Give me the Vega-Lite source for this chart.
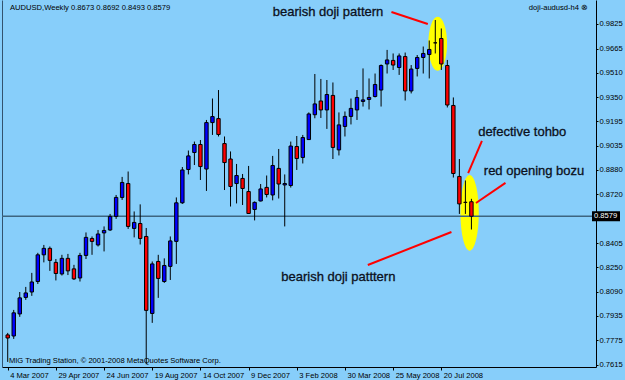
{
  "$schema": "https://vega.github.io/schema/vega-lite/v6.json",
  "width": 594,
  "height": 367,
  "padding": {"left": 2, "top": 0, "right": 29, "bottom": 13},
  "autosize": {"type": "none"},
  "background": "#87CEFA",
  "config": {
    "view": {"stroke": null},
    "font": "Liberation Sans",
    "axisX": {"labelAlign": "left", "labelOffset": 2, "labelFontSize": 7.6, "labelColor": "#000000", "labelFont": "Liberation Sans",
              "tickSize": 3, "tickColor": "#000000", "labelPadding": 1, "domainColor": "#000000", "domainWidth": 1,
              "grid": false, "labelFlush": false, "labelOverlap": false}
  },
  "datasets": {
    "candles": [
      {"date":"2007-03-04","open":0.7810,"high":0.7823,"low":0.7635,"close":0.7790},
      {"date":"2007-03-11","open":0.7803,"high":0.7972,"low":0.7784,"close":0.7953},
      {"date":"2007-03-18","open":0.7946,"high":0.8088,"low":0.7927,"close":0.8050},
      {"date":"2007-03-25","open":0.8053,"high":0.8121,"low":0.8037,"close":0.8082},
      {"date":"2007-04-01","open":0.8088,"high":0.8212,"low":0.8063,"close":0.8153},
      {"date":"2007-04-08","open":0.8156,"high":0.8342,"low":0.8140,"close":0.8329},
      {"date":"2007-04-15","open":0.8329,"high":0.8393,"low":0.8280,"close":0.8371},
      {"date":"2007-04-22","open":0.8371,"high":0.8383,"low":0.8225,"close":0.8293},
      {"date":"2007-04-29","open":0.8280,"high":0.8302,"low":0.8163,"close":0.8208},
      {"date":"2007-05-06","open":0.8205,"high":0.8329,"low":0.8195,"close":0.8306},
      {"date":"2007-05-13","open":0.8306,"high":0.8335,"low":0.8198,"close":0.8225},
      {"date":"2007-05-20","open":0.8238,"high":0.8264,"low":0.8166,"close":0.8173},
      {"date":"2007-05-27","open":0.8179,"high":0.8342,"low":0.8156,"close":0.8325},
      {"date":"2007-06-03","open":0.8325,"high":0.8474,"low":0.8302,"close":0.8442},
      {"date":"2007-06-10","open":0.8435,"high":0.8448,"low":0.8329,"close":0.8416},
      {"date":"2007-06-17","open":0.8393,"high":0.8490,"low":0.8383,"close":0.8464},
      {"date":"2007-06-24","open":0.8471,"high":0.8513,"low":0.8351,"close":0.8487},
      {"date":"2007-07-01","open":0.8490,"high":0.8594,"low":0.8484,"close":0.8578},
      {"date":"2007-07-08","open":0.8578,"high":0.8717,"low":0.8562,"close":0.8701},
      {"date":"2007-07-15","open":0.8701,"high":0.8834,"low":0.8685,"close":0.8798},
      {"date":"2007-07-22","open":0.8791,"high":0.8869,"low":0.8497,"close":0.8513},
      {"date":"2007-07-29","open":0.8500,"high":0.8610,"low":0.8442,"close":0.8539},
      {"date":"2007-08-05","open":0.8532,"high":0.8656,"low":0.8396,"close":0.8435},
      {"date":"2007-08-12","open":0.8448,"high":0.8503,"low":0.7620,"close":0.7969},
      {"date":"2007-08-19","open":0.7949,"high":0.8286,"low":0.7888,"close":0.8270},
      {"date":"2007-08-26","open":0.8286,"high":0.8329,"low":0.8050,"close":0.8176},
      {"date":"2007-09-02","open":0.8156,"high":0.8306,"low":0.8147,"close":0.8260},
      {"date":"2007-09-09","open":0.8254,"high":0.8448,"low":0.8166,"close":0.8419},
      {"date":"2007-09-16","open":0.8416,"high":0.8701,"low":0.8270,"close":0.8666},
      {"date":"2007-09-23","open":0.8666,"high":0.8898,"low":0.8659,"close":0.8879},
      {"date":"2007-09-30","open":0.8882,"high":0.9005,"low":0.8850,"close":0.8970},
      {"date":"2007-10-07","open":0.8992,"high":0.9063,"low":0.8911,"close":0.9044},
      {"date":"2007-10-14","open":0.9044,"high":0.9073,"low":0.8814,"close":0.8901},
      {"date":"2007-10-21","open":0.8885,"high":0.9203,"low":0.8743,"close":0.9186},
      {"date":"2007-10-28","open":0.9186,"high":0.9342,"low":0.9106,"close":0.9225},
      {"date":"2007-11-04","open":0.9212,"high":0.9397,"low":0.9096,"close":0.9109},
      {"date":"2007-11-11","open":0.9050,"high":0.9096,"low":0.8749,"close":0.8927},
      {"date":"2007-11-18","open":0.8950,"high":0.8999,"low":0.8642,"close":0.8772},
      {"date":"2007-11-25","open":0.8791,"high":0.8918,"low":0.8662,"close":0.8843},
      {"date":"2007-12-02","open":0.8824,"high":0.8853,"low":0.8652,"close":0.8759},
      {"date":"2007-12-09","open":0.8739,"high":0.8905,"low":0.8594,"close":0.8597},
      {"date":"2007-12-16","open":0.8623,"high":0.8675,"low":0.8552,"close":0.8669},
      {"date":"2007-12-23","open":0.8678,"high":0.8788,"low":0.8675,"close":0.8756},
      {"date":"2007-12-30","open":0.8766,"high":0.8843,"low":0.8701,"close":0.8720},
      {"date":"2008-01-06","open":0.8717,"high":0.8970,"low":0.8682,"close":0.8908},
      {"date":"2008-01-13","open":0.8889,"high":0.9015,"low":0.8694,"close":0.8788},
      {"date":"2008-01-20","open":0.8782,"high":0.8850,"low":0.8513,"close":0.8791},
      {"date":"2008-01-27","open":0.8778,"high":0.9063,"low":0.8765,"close":0.9034},
      {"date":"2008-02-03","open":0.9031,"high":0.9099,"low":0.8879,"close":0.8953},
      {"date":"2008-02-10","open":0.8960,"high":0.9106,"low":0.8921,"close":0.9089},
      {"date":"2008-02-17","open":0.9076,"high":0.9252,"low":0.9073,"close":0.9242},
      {"date":"2008-02-24","open":0.9237,"high":0.9501,"low":0.9214,"close":0.9307},
      {"date":"2008-03-02","open":0.9326,"high":0.9469,"low":0.9216,"close":0.9268},
      {"date":"2008-03-09","open":0.9268,"high":0.9462,"low":0.9145,"close":0.9368},
      {"date":"2008-03-16","open":0.9362,"high":0.9446,"low":0.8950,"close":0.9025},
      {"date":"2008-03-23","open":0.9009,"high":0.9252,"low":0.8973,"close":0.9171},
      {"date":"2008-03-30","open":0.9161,"high":0.9258,"low":0.9096,"close":0.9226},
      {"date":"2008-04-06","open":0.9226,"high":0.9342,"low":0.9174,"close":0.9278},
      {"date":"2008-04-13","open":0.9268,"high":0.9397,"low":0.9203,"close":0.9349},
      {"date":"2008-04-20","open":0.9323,"high":0.9537,"low":0.9290,"close":0.9333},
      {"date":"2008-04-27","open":0.9336,"high":0.9472,"low":0.9271,"close":0.9349},
      {"date":"2008-05-04","open":0.9355,"high":0.9504,"low":0.9349,"close":0.9433},
      {"date":"2008-05-11","open":0.9397,"high":0.9563,"low":0.9290,"close":0.9556},
      {"date":"2008-05-18","open":0.9566,"high":0.9657,"low":0.9504,"close":0.9592},
      {"date":"2008-05-25","open":0.9589,"high":0.9634,"low":0.9527,"close":0.9559},
      {"date":"2008-06-01","open":0.9543,"high":0.9634,"low":0.9495,"close":0.9618},
      {"date":"2008-06-08","open":0.9614,"high":0.9640,"low":0.9329,"close":0.9391},
      {"date":"2008-06-15","open":0.9391,"high":0.9559,"low":0.9375,"close":0.9533},
      {"date":"2008-06-22","open":0.9537,"high":0.9624,"low":0.9485,"close":0.9608},
      {"date":"2008-06-29","open":0.9608,"high":0.9679,"low":0.9504,"close":0.9634},
      {"date":"2008-07-06","open":0.9627,"high":0.9718,"low":0.9472,"close":0.9660},
      {"date":"2008-07-13","open":0.9703,"high":0.9851,"low":0.9634,"close":0.9703},
      {"date":"2008-07-20","open":0.9731,"high":0.9796,"low":0.9527,"close":0.9566},
      {"date":"2008-07-27","open":0.9556,"high":0.9592,"low":0.9284,"close":0.9300},
      {"date":"2008-08-03","open":0.9297,"high":0.9349,"low":0.8830,"close":0.8856},
      {"date":"2008-08-10","open":0.8837,"high":0.8950,"low":0.8594,"close":0.8659},
      {"date":"2008-08-17","open":0.8669,"high":0.8811,"low":0.8594,"close":0.8669},
      {"date":"2008-08-24","open":0.8673,"high":0.8692,"low":0.8493,"close":0.8579}
    ],
    "notes": [
      {"kind":"big","date":"2008-03-10T08:00:00Z","price":0.9900,"label":"bearish doji pattern"},
      {"kind":"big","date":"2008-10-22T02:00:00Z","price":0.9128,"label":"defective tohbo"},
      {"kind":"big","date":"2008-11-04T19:00:00Z","price":0.8872,"label":"red opening bozu"},
      {"kind":"big","date":"2008-03-22T07:00:00Z","price":0.8185,"label":"bearish doji patttern"},
      {"kind":"left","date":"2007-03-06T15:00:00Z","price":0.9929,"label":"AUDUSD,Weekly  0.8673 0.8692 0.8493 0.8579"},
      {"kind":"left","date":"2007-03-05T10:00:00Z","price":0.7643,"label":"MIG Trading Station, © 2001-2008 MetaQuotes Software Corp."},
      {"kind":"right","date":"2009-01-06T17:00:00Z","price":0.9929,"label":"doji-audusd-h4 ⊗"}
    ],
    "arrows": [
      {"date":"2008-05-23T01:00:00Z","price":0.9903,"date2":"2008-07-04T07:00:00Z","price2":0.9825},
      {"date":"2008-09-05T05:00:00Z","price":0.9067,"date2":"2008-08-20T05:00:00Z","price2":0.8859},
      {"date":"2008-10-02T14:00:00Z","price":0.8795,"date2":"2008-08-29T07:00:00Z","price2":0.8665},
      {"date":"2008-04-25T14:00:00Z","price":0.8263,"date2":"2008-07-31T19:00:00Z","price2":0.8477}
    ],
    "ovals": [
      {"name":"doji","date":"2008-07-15T19:00:00Z","price":0.9697},
      {"name":"bozu","date":"2008-08-21T22:00:00Z","price":0.8601}
    ],
    "last": [{"price":0.8579,"label":"0.8579"}]
  },
  "resolve": {"axis": {"y": "independent"}},
  "layer": [
    {
      "data": {"name": "ovals"},
      "transform": [{"filter": "datum.name === 'doji'"}],
      "mark": {"type": "point", "filled": true, "fill": "#FFFF00", "opacity": 1, "strokeWidth": 0, "size": 2916,
               "shape": "M -0.346 0 A 0.346 1 0 1 0 0.346 0 A 0.346 1 0 1 0 -0.346 0 Z"},
      "encoding": {
        "x": {"field": "date", "type": "temporal",
              "scale": {"type": "utc", "domain": [1172895000000, 1231545600000]},
              "axis": {"orient": "bottom", "title": null, "labelExpr": "utcFormat(datum.value, '%-d %b %Y')",
                       "values": [1172966400000, 1177804800000, 1182643200000, 1187481600000, 1192320000000, 1197158400000, 1201996800000, 1206835200000, 1211673600000, 1216512000000]}},
        "y": {"field": "price", "type": "quantitative",
              "scale": {"domain": [0.7602, 0.99805], "nice": false, "zero": false},
              "axis": {"orient": "left", "labels": false, "ticks": false, "grid": false, "title": null, "domainColor": "#33536e", "domainWidth": 1}}
      }
    },
    {
      "data": {"name": "ovals"},
      "transform": [{"filter": "datum.name === 'bozu'"}],
      "mark": {"type": "point", "filled": true, "fill": "#FFFF00", "opacity": 1, "strokeWidth": 0, "size": 5730,
               "shape": "M -0.242 0 A 0.242 1 0 1 0 0.242 0 A 0.242 1 0 1 0 -0.242 0 Z"},
      "encoding": {
        "x": {"field": "date", "type": "temporal",
              "axis": {"orient": "bottom", "title": null, "labelExpr": "utcFormat(datum.value, '%-d %b %Y')",
                       "values": [1172966400000, 1177804800000, 1182643200000, 1187481600000, 1192320000000, 1197158400000, 1201996800000, 1206835200000, 1211673600000, 1216512000000]}},
        "y": {"field": "price", "type": "quantitative", "axis": null}
      }
    },
    {
      "data": {"name": "last"},
      "mark": {"type": "rule", "color": "#3d6580", "strokeWidth": 1.5},
      "encoding": {"y": {"field": "price", "type": "quantitative", "axis": null}}
    },
    {
      "data": {"name": "candles"},
      "mark": {"type": "rule", "color": "#000000", "strokeWidth": 1},
      "encoding": {
        "x": {"field": "date", "type": "temporal",
              "axis": {"orient": "bottom", "title": null, "labelExpr": "utcFormat(datum.value, '%-d %b %Y')",
                       "values": [1172966400000, 1177804800000, 1182643200000, 1187481600000, 1192320000000, 1197158400000, 1201996800000, 1206835200000, 1211673600000, 1216512000000]}},
        "y": {"field": "low", "type": "quantitative",
              "axis": {"orient": "right", "title": null, "grid": false, "format": ".4f",
                       "values": [0.9825,0.9665,0.951,0.935,0.9195,0.9035,0.888,0.872,0.8405,0.825,0.809,0.7935,0.7775,0.7615],
                       "labelFontSize": 7.6, "labelColor": "#000000", "labelFont": "Liberation Sans", "tickSize": 2, "tickColor": "#000000",
                       "labelPadding": 1, "domainColor": "#000000", "domainWidth": 1, "labelFlush": false, "labelOverlap": false}},
        "y2": {"field": "high"}
      }
    },
    {
      "data": {"name": "candles"},
      "mark": {"type": "bar", "size": 3.4, "stroke": "#000000", "strokeWidth": 1},
      "encoding": {
        "x": {"field": "date", "type": "temporal",
              "axis": {"orient": "bottom", "title": null, "labelExpr": "utcFormat(datum.value, '%-d %b %Y')",
                       "values": [1172966400000, 1177804800000, 1182643200000, 1187481600000, 1192320000000, 1197158400000, 1201996800000, 1206835200000, 1211673600000, 1216512000000]}},
        "y": {"field": "open", "type": "quantitative", "axis": null},
        "y2": {"field": "close"},
        "fill": {"condition": {"test": "datum.close > datum.open", "value": "#0000FF"}, "value": "#FF0000"}
      }
    },
    {
      "data": {"name": "arrows"},
      "mark": {"type": "rule", "color": "#FF0000", "strokeWidth": 2},
      "encoding": {
        "x": {"field": "date", "type": "temporal",
              "axis": {"orient": "bottom", "title": null, "labelExpr": "utcFormat(datum.value, '%-d %b %Y')",
                       "values": [1172966400000, 1177804800000, 1182643200000, 1187481600000, 1192320000000, 1197158400000, 1201996800000, 1206835200000, 1211673600000, 1216512000000]}},
        "x2": {"field": "date2"},
        "y": {"field": "price", "type": "quantitative", "axis": null},
        "y2": {"field": "price2"}
      }
    },
    {
      "data": {"name": "notes"},
      "transform": [{"filter": "datum.kind === 'big'"}],
      "mark": {"type": "text", "font": "Liberation Sans", "fontSize": 13, "align": "center", "baseline": "middle", "fill": "#0b1020", "stroke": "#0b1020", "strokeWidth": 0.3},
      "encoding": {
        "x": {"field": "date", "type": "temporal",
              "axis": {"orient": "bottom", "title": null, "labelExpr": "utcFormat(datum.value, '%-d %b %Y')",
                       "values": [1172966400000, 1177804800000, 1182643200000, 1187481600000, 1192320000000, 1197158400000, 1201996800000, 1206835200000, 1211673600000, 1216512000000]}},
        "y": {"field": "price", "type": "quantitative", "axis": null},
        "text": {"field": "label"}
      }
    },
    {
      "data": {"name": "notes"},
      "transform": [{"filter": "datum.kind === 'left'"}],
      "mark": {"type": "text", "font": "Liberation Sans", "fontSize": 7.6, "align": "left", "baseline": "middle", "fill": "#000000"},
      "encoding": {
        "x": {"field": "date", "type": "temporal",
              "axis": {"orient": "bottom", "title": null, "labelExpr": "utcFormat(datum.value, '%-d %b %Y')",
                       "values": [1172966400000, 1177804800000, 1182643200000, 1187481600000, 1192320000000, 1197158400000, 1201996800000, 1206835200000, 1211673600000, 1216512000000]}},
        "y": {"field": "price", "type": "quantitative", "axis": null},
        "text": {"field": "label"}
      }
    },
    {
      "data": {"name": "notes"},
      "transform": [{"filter": "datum.kind === 'right'"}],
      "mark": {"type": "text", "font": "Liberation Sans", "fontSize": 7.6, "align": "right", "baseline": "middle", "fill": "#000000"},
      "encoding": {
        "x": {"field": "date", "type": "temporal",
              "axis": {"orient": "bottom", "title": null, "labelExpr": "utcFormat(datum.value, '%-d %b %Y')",
                       "values": [1172966400000, 1177804800000, 1182643200000, 1187481600000, 1192320000000, 1197158400000, 1201996800000, 1206835200000, 1211673600000, 1216512000000]}},
        "y": {"field": "price", "type": "quantitative", "axis": null},
        "text": {"field": "label"}
      }
    },
    {
      "data": {"name": "last"},
      "mark": {"type": "rect", "fill": "#000000", "xOffset": 1, "x2Offset": 29, "yOffset": -5, "y2Offset": 5},
      "encoding": {
        "x": {"datum": 1231545600000, "type": "temporal",
              "axis": {"orient": "bottom", "title": null, "labelExpr": "utcFormat(datum.value, '%-d %b %Y')",
                       "values": [1172966400000, 1177804800000, 1182643200000, 1187481600000, 1192320000000, 1197158400000, 1201996800000, 1206835200000, 1211673600000, 1216512000000]}},
        "x2": {"datum": 1231545600000},
        "y": {"field": "price", "type": "quantitative", "axis": null},
        "y2": {"field": "price"}
      }
    },
    {
      "data": {"name": "last"},
      "mark": {"type": "text", "font": "Liberation Sans", "fontSize": 7.6, "align": "left", "baseline": "middle", "fill": "#FFFFFF", "dx": 3},
      "encoding": {
        "x": {"datum": 1231545600000, "type": "temporal",
              "axis": {"orient": "bottom", "title": null, "labelExpr": "utcFormat(datum.value, '%-d %b %Y')",
                       "values": [1172966400000, 1177804800000, 1182643200000, 1187481600000, 1192320000000, 1197158400000, 1201996800000, 1206835200000, 1211673600000, 1216512000000]}},
        "y": {"field": "price", "type": "quantitative", "axis": null},
        "text": {"field": "label"}
      }
    }
  ]
}
